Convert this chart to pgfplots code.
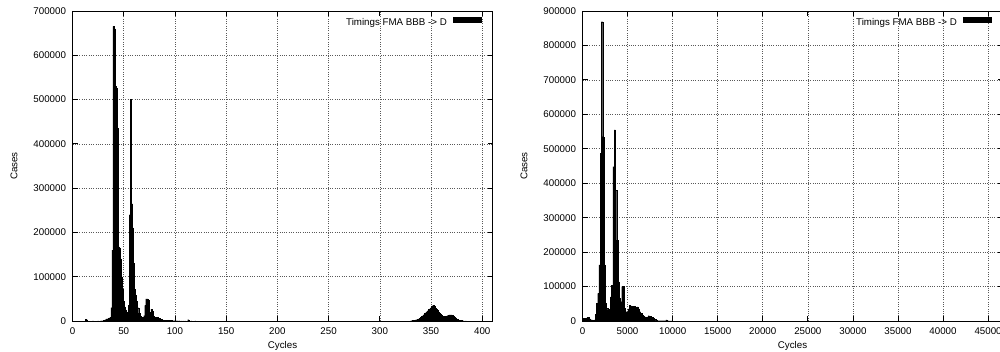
\documentclass[border=0pt]{standalone}
\usepackage{fontspec}
\setmainfont{Liberation Sans}
\usepackage{pgfplots}
\pgfplotsset{compat=1.18}
\usepackage{pgfplotstable}

% left histogram: cycle, cases (bins of 1 cycle)
\pgfplotstableread{
x y
13 4000
14 3000
20 500
25 500
28 800
30 1500
31 2000
32 3000
33 5000
34 5000
35 6000
36 7000
37 8000
38 30000
39 160000
40 665000
41 660000
42 530000
43 525000
44 436000
45 168000
46 165000
47 140000
48 100000
49 72000
50 45000
51 32000
52 25000
53 20000
54 17000
55 35000
56 240000
57 500000
58 265000
59 210000
60 130000
61 72000
62 58000
63 45000
64 30000
65 18000
66 12000
67 9000
68 7000
69 9000
70 12000
71 35000
72 50000
73 50000
74 48000
75 15000
76 20000
77 27000
78 22000
79 12000
80 8000
81 9000
82 7000
83 9000
84 5000
85 6000
86 3000
87 4000
88 2500
89 2000
90 2000
91 1500
92 1500
93 2000
94 1200
95 1000
96 1200
97 1000
98 800
99 800
100 700
102 600
104 600
106 500
108 500
110 500
113 3000
116 400
120 300
330 500
331 800
332 1000
333 1500
334 2000
335 2500
336 3000
337 4000
338 5000
339 6500
340 8000
341 10000
342 12000
343 14500
344 17000
345 19000
346 21000
347 23500
348 26000
349 28000
350 30000
351 33000
352 36000
353 34000
354 30000
355 27000
356 24000
357 21000
358 18000
359 15000
360 14000
361 12000
362 11000
363 11000
364 10000
365 11000
366 12000
367 13000
368 14000
369 14000
370 14000
371 13000
372 11000
373 9000
374 7000
375 5000
376 3500
377 2500
378 2000
379 1500
380 1000
381 700
382 500
384 300
}\leftdata

% right histogram: bin centre (cycles), cases (bins of 140 cycles)
\pgfplotstableread{
x y
70 8000
210 8000
350 2000
490 9000
630 10000
770 7000
910 4000
1050 3000
1190 2000
1330 3000
1470 20000
1610 51000
1750 80000
1890 163000
2030 487000
2170 869000
2310 535000
2450 163000
2590 51000
2730 37000
2870 33000
3010 34000
3150 70000
3290 104000
3430 448000
3570 555000
3710 380000
3850 235000
3990 114000
4130 66000
4270 56000
4410 100000
4550 100000
4690 37000
4830 27000
4970 27000
5110 35000
5250 46000
5390 44000
5530 43000
5670 43000
5810 42000
5950 40000
6090 41000
6230 35000
6370 27000
6510 22000
6650 17000
6790 14500
6930 12000
7070 10600
7210 12000
7350 15500
7490 14000
7630 11000
7770 10000
7910 8000
8050 5000
8190 2000
8330 1000
8470 1000
8610 1000
8750 1000
8890 1000
9030 1000
9170 1000
9310 3000
9450 800
9590 500
9730 500
9870 500
}\rightdata

\pgfplotsset{
  gnu/.style={
    scale only axis,
    width=420pt, height=310pt,
    ymin=0,
    font=\fontsize{9.75}{11.7}\selectfont,
    axis line style={black, line width=0.8pt},
    grid=major,
    grid style={black!65, line width=0.6pt, dash pattern=on 0.9pt off 1.4pt},
    tick style={black, line width=0.8pt},
    major tick length=5pt,
    tick align=inside,
    minor tick num=0,
    scaled ticks=false,
    /pgf/number format/assume math mode=true,
    /pgf/number format/fixed,
    /pgf/number format/1000 sep={},
    xticklabel style={font=\fontsize{9.75}{11.7}\selectfont, yshift=-3pt},
    yticklabel style={font=\fontsize{9.75}{11.7}\selectfont, xshift=-3pt},
    xlabel={Cycles}, ylabel={Cases},
    every axis x label/.style={at={(axis description cs:0.5,0)}, anchor=center, yshift=-24.8pt},
    every axis y label/.style={at={(axis description cs:0,0.5)}, xshift=-58.5pt, anchor=center, rotate=90},
    legend style={draw=none, fill=none, at={(axis description cs:1,1)}, anchor=north east,
      xshift=-11.2pt, yshift=-6pt, legend plot pos=right, legend cell align=right,
      inner sep=0pt, outer sep=0pt, nodes={inner sep=0pt}, column sep=6.3pt,
      font=\fontsize{9.75}{11.7}\selectfont},
  },
  hist/.style={ybar, bar shift=0pt, fill=black, draw=black, line width=0.15pt,
    legend image code/.code={\fill[black] (0pt,0.7pt) rectangle (28pt,6pt);}},
}

\begin{document}
\begin{tikzpicture}
\useasboundingbox (0pt,0pt) rectangle (1000pt,352pt);
\begin{axis}[gnu, at={(72.5pt,31pt)}, anchor=south west,
  xmin=0, xmax=410, ymax=700000,
  xtick={0,50,...,400}, ytick={0,100000,...,700000}]
\addplot[hist, bar width=1] table[x=x,y=y] {\leftdata};
\addlegendentry{Timings FMA BBB -> D}
\end{axis}
\begin{axis}[gnu, at={(582.5pt,31pt)}, anchor=south west,
  xmin=0, xmax=46600, ymax=900000,
  xtick={0,5000,...,45000}, ytick={0,100000,...,900000}]
\addplot[hist, bar width=140] table[x=x,y=y] {\rightdata};
\addlegendentry{Timings FMA BBB -> D}
\end{axis}
\end{tikzpicture}
\end{document}
